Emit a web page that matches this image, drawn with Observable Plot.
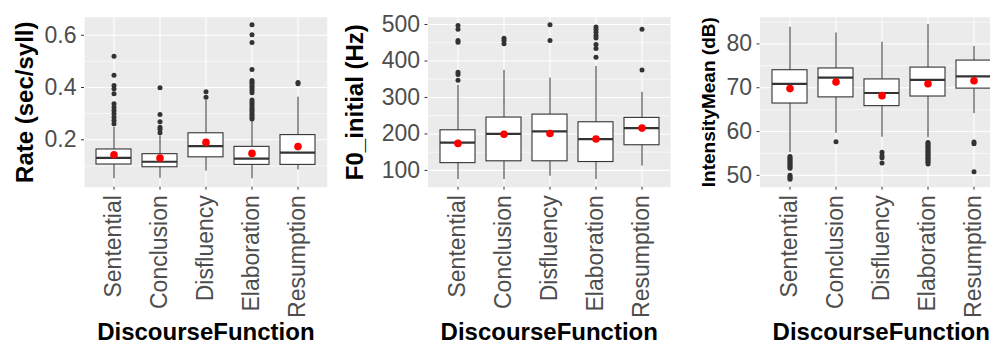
<!DOCTYPE html>
<html>
<head>
<meta charset="utf-8">
<script src="https://cdn.jsdelivr.net/npm/d3@7"></script>
<script src="https://cdn.jsdelivr.net/npm/@observablehq/plot@0.6"></script>
<style>
  html, body { margin: 0; padding: 0; background: #fff; overflow: hidden; }
  #wrap { position: relative; width: 990px; height: 345px; overflow: hidden; }
  #wrap > .panel { position: absolute; top: 0; }
</style>
</head>
<body>
<div id="wrap"></div>
<script>
const categories = ["Sentential", "Conclusion", "Disfluency", "Elaboration", "Resumption"];

// Panel 1: Rate (sec/syll)
const rateLower  = [0.051, 0.053, 0.080, 0.051, 0.085];
const rateQ1     = [0.1055, 0.095, 0.133, 0.104, 0.104];
const rateMedian = [0.131, 0.116, 0.176, 0.128, 0.151];
const rateQ3     = [0.163, 0.145, 0.225, 0.173, 0.218];
const rateUpper  = [0.248, 0.215, 0.350, 0.272, 0.363];
const rateMean   = [0.143, 0.130, 0.190, 0.148, 0.174];
const rateOutliers = [
  [0.52, 0.447, 0.408, 0.395, 0.376, 0.338, 0.325, 0.312, 0.300, 0.286, 0.274, 0.261],
  [0.399, 0.297, 0.269, 0.248, 0.240, 0.227],
  [0.384, 0.363],
  [0.64, 0.602, 0.572, 0.469, 0.427, 0.42, 0.413, 0.405, 0.398, 0.39, 0.38, 0.352, 0.345, 0.338, 0.33, 0.322, 0.315, 0.308, 0.30, 0.293, 0.285, 0.28],
  [0.419, 0.414]
];
const rateTicks = [0.2, 0.4, 0.6];
const rateMinor = [0.1, 0.3, 0.5];

// Panel 2: F0_initial (Hz)
const f0Lower  = [75, 75, 84, 75, 112];
const f0Q1     = [120, 125, 125, 123, 169];
const f0Median = [176, 200, 207, 186, 216];
const f0Q3     = [210, 245, 253, 232, 244];
const f0Upper  = [333, 374, 353, 385, 314];
const f0Mean   = [174, 199, 201, 186, 216];
const f0Outliers = [
  [497, 487, 456, 451, 369, 363, 347],
  [462, 456, 447],
  [499, 456],
  [493, 486, 479, 470, 463, 445, 434, 410],
  [487, 375]
];
const f0Ticks = [100, 200, 300, 400, 500];
const f0Minor = [150, 250, 350, 450];

// Panel 3: IntensityMean (dB)
const intLower  = [55.2, 59.6, 58.7, 58.6, 64.1];
const intQ1     = [66.4, 67.8, 65.8, 68.0, 69.8];
const intMedian = [70.9, 72.3, 68.8, 71.8, 72.6];
const intQ3     = [74.0, 74.4, 71.9, 74.6, 76.2];
const intUpper  = [83.8, 82.5, 80.4, 84.4, 79.4];
const intMean   = [69.8, 71.3, 68.2, 70.9, 71.6];
const intOutliers = [
  [54.3, 54.0, 53.7, 53.4, 53.1, 52.8, 52.5, 52.2, 51.9, 51.6, 50.0, 49.7, 49.4, 49.1],
  [57.7],
  [55.3, 54.5, 54.0, 52.8],
  [57.5, 57.2, 56.9, 56.6, 56.3, 56.0, 55.7, 55.4, 55.1, 54.8, 54.5, 54.2, 53.9, 53.6, 53.3, 53.0, 52.6],
  [57.6, 57.2, 50.8]
];
const intTicks = [50, 60, 70, 80];
const intMinor = [55, 65, 75, 85];

const FONT = "'Liberation Sans', Arial, sans-serif";

function panel({left, width, marginLeft, marginRight, domain, lower, q1, median, q3, upper, mean, outliers,
                ticks, minor, fmt, yTitle, yTitleSize, yTitleDx}) {
  const boxes = categories.map((c, i) => ({cat: c, lo: lower[i], q1: q1[i], med: median[i], q3: q3[i], hi: upper[i], mean: mean[i]}));
  const outs = categories.flatMap((c, i) => outliers[i].map(v => ({cat: c, v})));
  const chart = Plot.plot({
    width, height: 345,
    marginTop: 16.7, marginBottom: 158.3, marginLeft, marginRight,
    style: {fontFamily: FONT, background: "transparent", overflow: "visible", maxWidth: "none"},
    x: {type: "band", domain: categories, paddingInner: 0.25, paddingOuter: 0.225},
    y: {domain},
    marks: [
      Plot.frame({fill: "#EBEBEB", stroke: null}),
      Plot.ruleY(minor.filter(v => v > domain[0] && v < domain[1]), {stroke: "white", strokeWidth: 0.6}),
      Plot.ruleY(ticks, {stroke: "white", strokeWidth: 1.1}),
      Plot.ruleX(categories, {stroke: "white", strokeWidth: 1.1}),
      Plot.ruleX(boxes, {x: "cat", y1: "lo", y2: "q1", stroke: "#333", strokeWidth: 1}),
      Plot.ruleX(boxes, {x: "cat", y1: "q3", y2: "hi", stroke: "#333", strokeWidth: 1}),
      Plot.barY(boxes, {x: "cat", y1: "q1", y2: "q3", fill: "white", stroke: "#333", strokeWidth: 1.1}),
      Plot.tickY(boxes, {x: "cat", y: "med", stroke: "#333", strokeWidth: 2.2}),
      Plot.dot(outs, {x: "cat", y: "v", r: 2.5, fill: "#333", stroke: null}),
      Plot.dot(boxes, {x: "cat", y: "mean", r: 3.8, fill: "red", stroke: null}),
      Plot.axisY({ticks, tickFormat: fmt, tickSize: 3, tickPadding: 5, fontSize: 23, fill: "#4D4D4D", stroke: "#333", label: null}),
      Plot.axisX({tickSize: 3, tickFormat: () => "", stroke: "#333", label: null}),
      Plot.text(categories, {x: d => d, frameAnchor: "bottom", dy: 8, rotate: -90, textAnchor: "end", lineAnchor: "middle", fontSize: 23, fill: "#4D4D4D"}),
      Plot.text(["DiscourseFunction"], {frameAnchor: "bottom", dy: 153, lineAnchor: "bottom", textAnchor: "middle", fontSize: 24, fontWeight: "bold", fill: "black"}),
      Plot.text([yTitle], {frameAnchor: "left", dx: yTitleDx, rotate: -90, textAnchor: "middle", lineAnchor: "bottom", fontSize: yTitleSize, fontWeight: "bold", fill: "black"})
    ]
  });
  chart.classList.add("panel");
  chart.style.left = left + "px";
  document.getElementById("wrap").appendChild(chart);
}

panel({left: 0, width: 330, marginLeft: 84, marginRight: 3.3, domain: [0.0187, 0.669],
  lower: rateLower, q1: rateQ1, median: rateMedian, q3: rateQ3, upper: rateUpper, mean: rateMean, outliers: rateOutliers,
  ticks: rateTicks, minor: rateMinor, fmt: d3.format(".1f"), yTitle: "Rate (sec/syll)", yTitleSize: 24, yTitleDx: -52});

panel({left: 330, width: 342, marginLeft: 97.5, marginRight: 2, domain: [54, 520],
  lower: f0Lower, q1: f0Q1, median: f0Median, q3: f0Q3, upper: f0Upper, mean: f0Mean, outliers: f0Outliers,
  ticks: f0Ticks, minor: f0Minor, fmt: d3.format("d"), yTitle: "F0_initial (Hz)", yTitleSize: 24, yTitleDx: -65});

panel({left: 660, width: 345, marginLeft: 99.5, marginRight: 3, domain: [47.3, 86.1],
  lower: intLower, q1: intQ1, median: intMedian, q3: intQ3, upper: intUpper, mean: intMean, outliers: intOutliers,
  ticks: intTicks, minor: intMinor, fmt: d3.format("d"), yTitle: "IntensityMean (dB)", yTitleSize: 19, yTitleDx: -45});
</script>
</body>
</html>
